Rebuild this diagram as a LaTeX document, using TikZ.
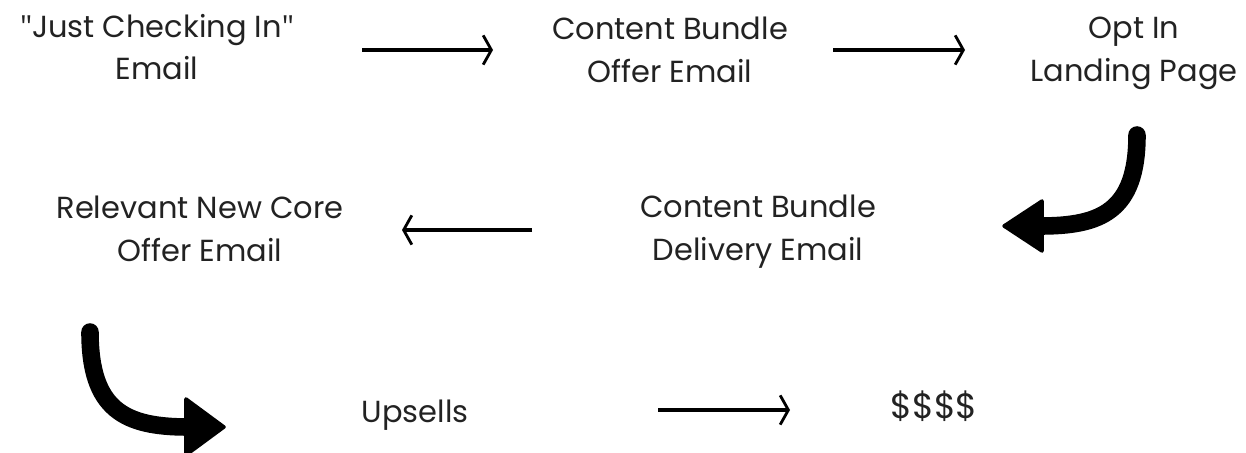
\documentclass[tikz,border=0pt]{standalone}
\usepackage{fontspec}
\setmainfont{Poppins}
\newfontfamily\quotefont{Open Sans}
\usetikzlibrary{arrows.meta}
\definecolor{ink}{HTML}{222222}
\tikzset{
  lbl/.style={align=center, text=ink, font=\fontsize{26}{36.5}\selectfont, inner sep=0pt},
  thin/.style={draw=black, line width=2.6pt, -{Straight Barb[length=7pt,width=25pt,line width=2.4pt]}},
  thick/.style={draw=black, line width=15pt, line cap=round},
  headfill/.style={fill=black, draw=black, line width=3pt, line join=round}
}
\begin{document}
\begin{tikzpicture}[x=0.03cm,y=-0.03cm]
\useasboundingbox (0,0) rectangle (1246,453);
\clip (0,0) rectangle (1246,453);
\node[lbl] (n1) at (157,47) {{\quotefont\symbol{34}}Just Checking In{\quotefont\symbol{34}}\\Email};
\node[lbl] (n2) at (670,50) {Content Bundle\\Offer Email};
\node[lbl] (n3) at (1134,53) {Opt In\\Landing Page};
\node[lbl] (n4) at (200,229) {Relevant New Core\\Offer Email};
\node[lbl] (n5) at (758,232) {Content Bundle\\Delivery Email};
\node[lbl] (n6) at (415,415) {Upsells};
\node[lbl, font=\fontsize{30}{36}\selectfont] (n7) at (934,406) {\$\$\$\$};
% thin arrow endpoints
\coordinate (a1s) at (362,50); \coordinate (a1e) at (493,50);
\coordinate (a2s) at (833,50); \coordinate (a2e) at (965,50);
\coordinate (a3s) at (532,230); \coordinate (a3e) at (402,230);
\coordinate (a4s) at (658,410); \coordinate (a4e) at (790,410);
\draw[thin] (a1s) -- (a1e);
\draw[thin] (a2s) -- (a2e);
\draw[thin] (a3s) -- (a3e);
\draw[thin] (a4s) -- (a4e);
% thick curved arrow 1 (Opt In -> Content Bundle Delivery)
\coordinate (b1s) at (1137,135);
\coordinate (b1e) at (1040,226);
\draw[thick] (b1s) .. controls (1137,212) and (1100,226) .. (b1e);
\fill[headfill] (1004,226) -- (1042,201) -- (1042,251) -- cycle;
% thick curved arrow 2 (Relevant -> Upsells)
\coordinate (b2s) at (90,332);
\coordinate (b2e) at (188,427);
\draw[thick] (b2s) .. controls (90,410) and (125,427) .. (b2e);
\fill[headfill] (224,427) -- (186,399) -- (186,455) -- cycle;
\end{tikzpicture}
\end{document}
